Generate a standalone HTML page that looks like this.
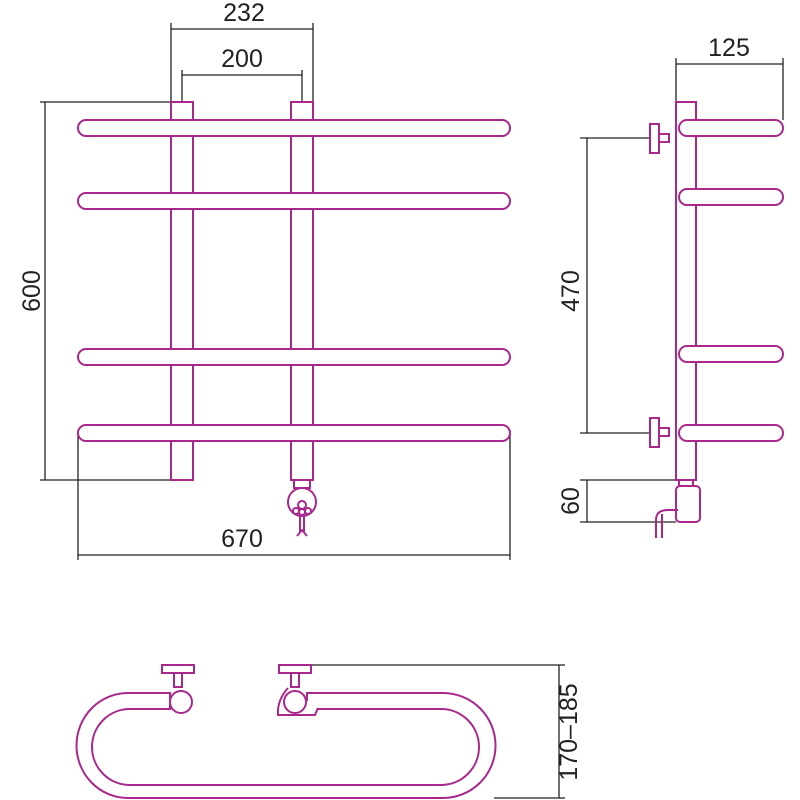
<!DOCTYPE html>
<html><head><style>html,body{margin:0;background:#fff}svg{display:block}</style></head>
<body>
<svg width="800" height="800" viewBox="0 0 800 800" xmlns="http://www.w3.org/2000/svg">
<g fill="none" stroke="#222" stroke-width="1.3">
  <!-- front dims -->
  <path d="M171 23V102M313 23V102M171 29H313"/>
  <path d="M182 70V102M302 70V102M182 75H302"/>
  <path d="M40 102H171M45 102V480M40 480H171"/>
  <path d="M78 430V560M510 430V560M78 555H510"/>
  <!-- side dims -->
  <path d="M676 58V112M783 58V120M676 64H783"/>
  <path d="M580 138H650M587 138V433M580 433H650"/>
  <path d="M580 480H676M587 480V522M580 522H676"/>
  <!-- bottom dim -->
  <path d="M310 665H565M559 665V798M494 798H565"/>
</g>
<g font-family="Liberation Sans, sans-serif" font-size="25" fill="#222" text-anchor="middle">
  <text x="244" y="21" transform="scale(1,1)">232</text>
  <text x="242" y="67">200</text>
  <text x="729" y="56">125</text>
  <text x="242" y="547">670</text>
  <text transform="translate(40,291) rotate(-90)">600</text>
  <text transform="translate(579,291) rotate(-90)">470</text>
  <text transform="translate(579,501) rotate(-90)">60</text>
  <text transform="translate(577,732) rotate(-90)">170–185</text>
</g>
<g fill="#fff" stroke="#a8288c" stroke-width="2">
  <!-- front view posts -->
  <rect x="171" y="102" width="22" height="378"/>
  <rect x="291" y="102" width="22" height="378"/>
  <!-- bars -->
  <rect x="78" y="120" width="432" height="16" rx="8"/>
  <rect x="78" y="193" width="432" height="16" rx="8"/>
  <rect x="78" y="349" width="432" height="16" rx="8"/>
  <rect x="78" y="425" width="432" height="16" rx="8"/>
  <!-- heater -->
  <rect x="294" y="480" width="16" height="8"/>
  <circle cx="302" cy="502" r="14"/>
  <circle cx="302" cy="505" r="4"/>
  <circle cx="296" cy="511" r="3"/><circle cx="302" cy="512" r="3"/><circle cx="308" cy="511" r="3"/>
  <path d="M300 516V532M304 516V532M297 536L302 530L307 536" fill="none"/>
  <!-- side view -->
  <rect x="676" y="102" width="20" height="378"/>
  <rect x="679" y="120" width="104" height="16" rx="8"/>
  <rect x="679" y="189" width="104" height="16" rx="8"/>
  <rect x="679" y="346" width="104" height="16" rx="8"/>
  <rect x="679" y="425" width="104" height="16" rx="8"/>
  <rect x="650" y="124" width="9" height="29"/><rect x="659" y="134" width="10" height="8"/>
  <rect x="650" y="418" width="9" height="29"/><rect x="659" y="428" width="10" height="8"/>
  <rect x="679" y="480" width="14" height="8"/>
  <rect x="676" y="486" width="24" height="36" rx="4"/>
  <path d="M678 510H668Q656 510 656 520V538M662 514V538" fill="none"/>
  <!-- bottom view -->
  <path d="M170 693H128A51 52 0 0 0 128 798H443A52 52 0 0 0 443 693H307V709H441A38 38 0 0 1 441 785H130A38 38 0 0 1 130 709H170Z"/>
  <rect x="162" y="665" width="32" height="8"/><rect x="174" y="673" width="8" height="14"/>
  <circle cx="181" cy="702" r="11"/>
  <rect x="279" y="665" width="32" height="8"/><rect x="291" y="673" width="8" height="14"/>
  <path d="M288 688Q277 700 278 715H315L318 708"/>
  <circle cx="295" cy="702" r="11"/>
</g>
</svg>
</body></html>
